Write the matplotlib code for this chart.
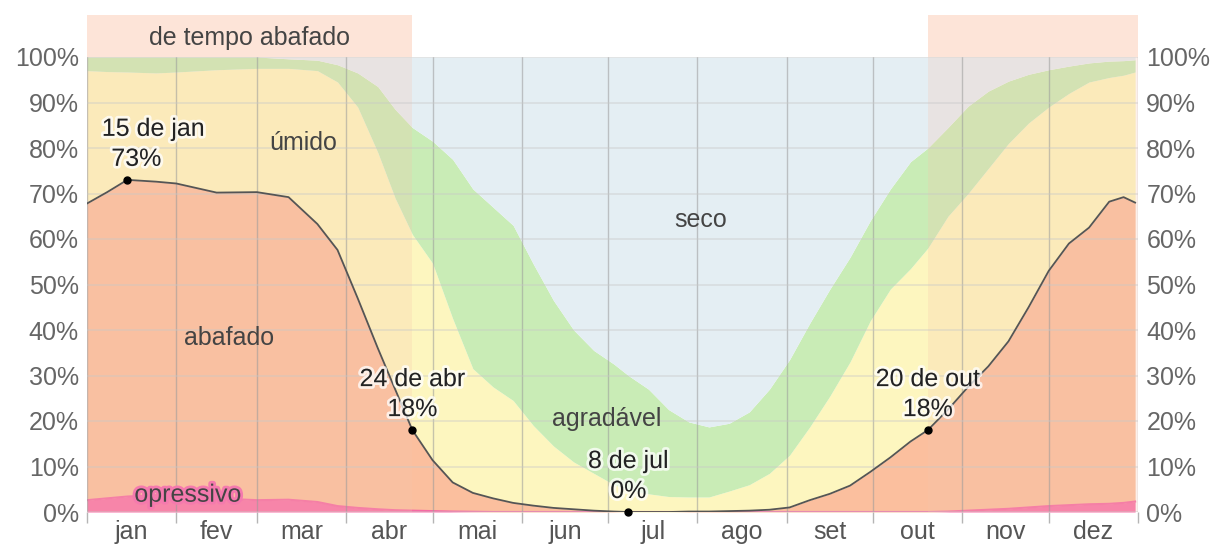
import numpy as np
import matplotlib.pyplot as plt
import matplotlib.patheffects as pe
from matplotlib.patches import Rectangle

plt.rcParams["font.family"] = ["Liberation Sans", "DejaVu Sans"]

# Day of year (0 = 1 Jan) where each band boundary was sampled
days = [0, 7, 14, 24, 31, 45, 59, 70, 80, 87, 94, 101, 107, 113, 120, 127,
        134, 141, 148, 155, 162, 169, 176, 183, 188, 195, 202, 209, 216, 223,
        230, 237, 244, 251, 258, 265, 272, 279, 286, 292, 299, 306, 313, 320,
        327, 334, 341, 348, 355, 360, 364]

# Cumulative tops of each humidity band (% of hours)
opressivo = [2.6, 3.0, 3.4, 3.7, 3.6, 3.0, 2.6, 2.7, 2.2, 1.3, 0.9, 0.6, 0.4,
             0.3, 0.2, 0.1, 0.05, 0, 0, 0, 0, 0, 0, 0, 0, 0, 0, 0, 0, 0,
             0, 0, 0, 0, 0, 0, 0, 0, 0, 0, 0.1, 0.3, 0.5, 0.7, 1.0, 1.3, 1.5,
             1.7, 1.8, 2.0, 2.3]
abafado = [67.8, 70.3, 73.0, 72.6, 72.2, 70.2, 70.3, 69.2, 63.3, 57.6, 47.0,
           36.0, 27.0, 18.0, 11.4, 6.5, 4.2, 3.0, 2.0, 1.4, 0.9, 0.6, 0.3,
           0.1, 0.0, 0.0, 0.0, 0.1, 0.1, 0.2, 0.3, 0.5, 1.0, 2.6, 4.0, 5.8,
           8.8, 12.0, 15.5, 18.0, 22.5, 27.5, 32.0, 37.5, 45.0, 53.0, 59.0,
           62.5, 68.2, 69.2, 68.0]
umido = [97.0, 96.8, 96.7, 96.5, 96.7, 97.2, 97.5, 97.5, 97.0, 94.5, 89.0,
         79.0, 69.0, 61.0, 54.7, 42.5, 31.5, 27.5, 24.5, 19.0, 14.5, 11.0,
         8.5, 6.0, 5.0, 4.0, 3.4, 3.3, 3.3, 4.6, 6.0, 8.5, 12.5, 18.7, 25.5,
         33.0, 42.0, 49.0, 53.5, 58.0, 65.0, 70.0, 75.5, 81.0, 85.5, 89.0,
         92.0, 94.5, 95.5, 96.0, 96.7]
agradavel = [100, 100, 100, 100, 100, 100, 100, 99.6, 99.3, 98.3, 96.5, 93.5,
             88.5, 84.5, 81.5, 77.5, 71.0, 67.0, 63.0, 54.5, 46.5, 40.0, 35.5,
             32.5, 30.0, 27.0, 22.5, 19.8, 18.7, 19.5, 22.0, 27.0, 33.5, 41.5,
             49.0, 56.0, 64.0, 71.0, 77.0, 80.0, 84.5, 89.2, 92.5, 94.7, 96.2,
             97.2, 98.0, 98.7, 99.1, 99.2, 99.4]

month_start = [0, 31, 59, 90, 120, 151, 181, 212, 243, 273, 304, 334, 365]
month_names = ["jan", "fev", "mar", "abr", "mai", "jun", "jul", "ago", "set",
               "out", "nov", "dez"]

# Muggy season: 1 Jan - 24 Apr and 20 Oct - 31 Dec
muggy_spans = [(0, 113), (292, 365)]

# Highlighted days: (day, value, label)
marks = [(14, 73, "15 de jan"), (113, 18, "24 de abr"),
         (188, 0, "8 de jul"), (292, 18, "20 de out")]

fig = plt.figure(figsize=(12.17, 5.44), dpi=100)
ax = fig.add_axes([87 / 1217, 32 / 544, 1051 / 1217, 455 / 544])

x = np.array(days)
ax.fill_between(x, 0, opressivo, color="#f872a9", lw=0, zorder=1)
ax.fill_between(x, opressivo, abafado, color="#fbbf9e", lw=0, zorder=1)
ax.fill_between(x, abafado, umido, color="#fdf6bf", lw=0, zorder=1)
ax.fill_between(x, umido, agradavel, color="#c9ecb6", lw=0, zorder=1)
ax.fill_between(x, agradavel, 100, color="#e4eef3", lw=0, zorder=1)
ax.plot(x, opressivo, color="#f56aa4", lw=1.5, zorder=2)

for a, b in muggy_spans:
    ax.axvspan(a, b, color="#f6c4ad", alpha=0.24, lw=0, zorder=2)
    ax.add_patch(Rectangle((a, 100), b - a, 9.2, color="#fde4d8", lw=0,
                           clip_on=False, zorder=0))

ax.plot(x, abafado, color="#555555", lw=1.3, zorder=4)

ax.set_xlim(0, 365)
ax.set_ylim(0, 100)

ax.set_xticks(month_start)
ax.set_xticklabels([])
ax.set_xticks([(a + b) / 2 for a, b in zip(month_start[:-1], month_start[1:])],
              minor=True)
ax.set_xticklabels(month_names, minor=True)
ax.tick_params(axis="x", which="major", length=8, color="#b5b5b5", width=1)
ax.tick_params(axis="x", which="minor", length=0, pad=6, labelsize=18,
               labelcolor="#555555")

yt = np.arange(0, 101, 10)
ax.set_yticks(yt)
ax.set_yticklabels([f"{v}%" for v in yt])
ax.tick_params(axis="y", length=0, pad=6, labelsize=18, labelcolor="#666666",
               left=True, right=True, labelleft=True, labelright=True)

ax.grid(axis="x", which="major", color="#9a9a9a", lw=1, alpha=0.55, zorder=3)
ax.grid(axis="y", color="#c8c8c8", lw=1.2, alpha=0.45, zorder=3)
ax.set_axisbelow(False)
for s in ax.spines.values():
    s.set_visible(False)

halo = [pe.withStroke(linewidth=4, foreground="white", alpha=0.75)]
for d, v, name in marks:
    ax.plot(d, v, "o", color="black", ms=5, zorder=6, clip_on=False)
    tx = max(d, 23)
    ax.annotate(f"{v}%", (d, v), xytext=(tx - d, 21), textcoords="offset pixels",
                ha="center", va="center", fontsize=18, color="#222222",
                path_effects=halo, zorder=7)
    ax.annotate(name, (d, v), xytext=((tx - d) * 2.88, 51),
                textcoords="offset pixels", ha="center", va="center",
                fontsize=18, color="#222222", path_effects=halo, zorder=7)

region_text = dict(ha="center", va="center", fontsize=18, color="#444444",
                   zorder=7)
ax.text(75, 81, "úmido", **region_text)
ax.text(49.5, 38.2, "abafado", **region_text)
ax.text(213, 64.2, "seco", **region_text)
ax.text(180.5, 20.4, "agradável", **region_text)
ax.text(35, 3.8, "opressivo",
        path_effects=[pe.withStroke(linewidth=4, foreground="#f57aae")],
        **region_text)
ax.text(56.5, 104.2, "de tempo abafado", clip_on=False, **region_text)

fig.savefig("out.png", dpi=100)
